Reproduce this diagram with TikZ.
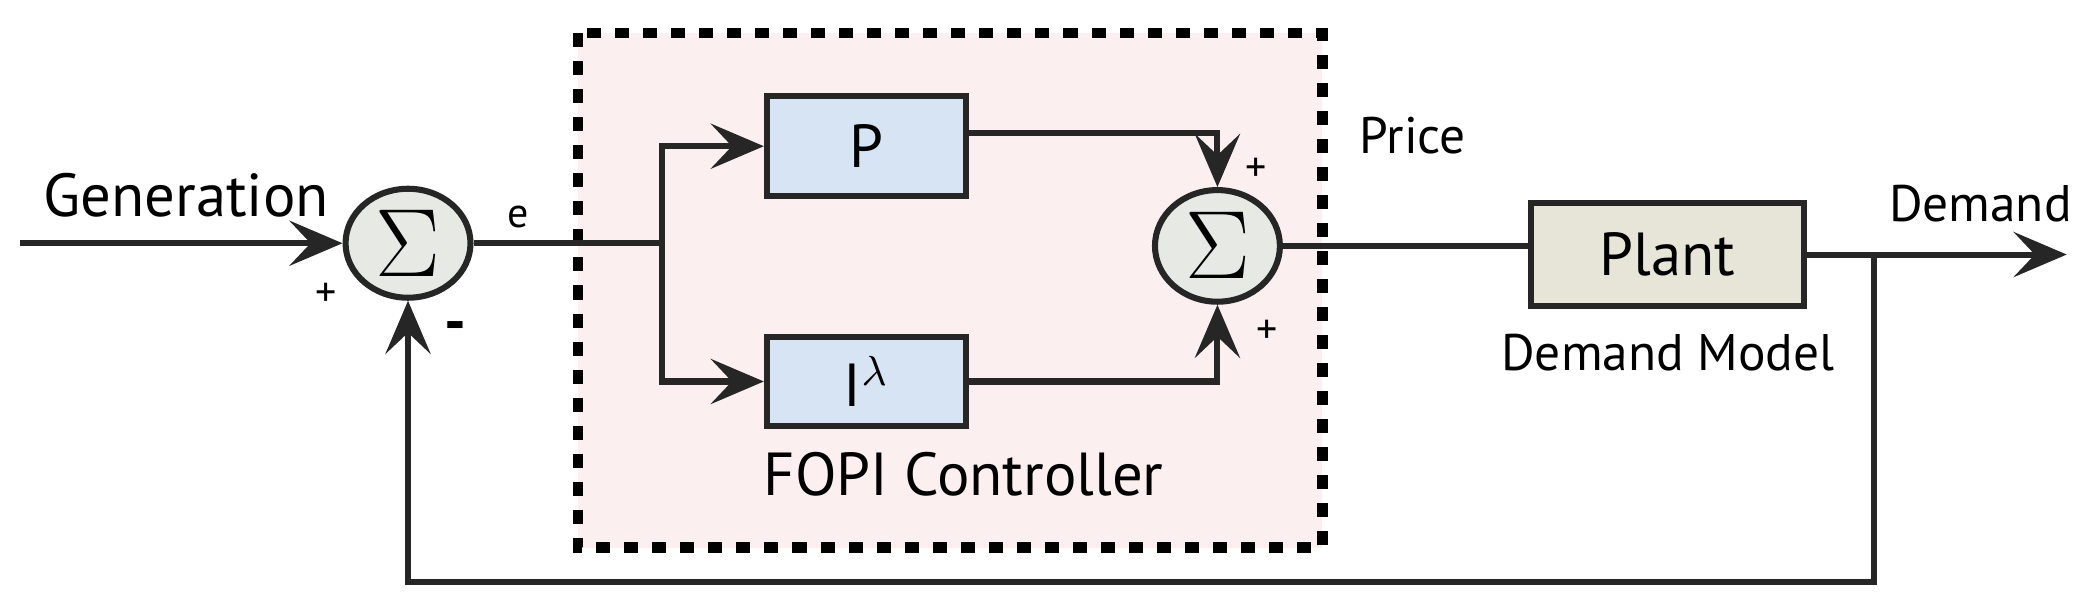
\documentclass[tikz,border=0pt]{standalone}
\usepackage{fontspec}
\setmainfont{PT Sans}
\usetikzlibrary{arrows.meta,shapes.geometric}
\definecolor{boxb}{HTML}{D6E4F4}
\definecolor{boxp}{HTML}{E6E5D8}
\definecolor{sumg}{HTML}{E6E9E4}
\definecolor{bgp}{HTML}{FCEFEF}
\begin{document}
\begin{tikzpicture}[x=0.1mm,y=-0.1mm,
  ln/.style={line width=1.3pt,draw=black!85},
  arr/.style={ln,-{Stealth[length=4mm,width=3.4mm,inset=1.6mm]}},
  sum/.style={ellipse,draw=black!85,line width=1.3pt,fill=sumg,minimum width=9.4mm,minimum height=8.2mm,inner sep=0pt,font=\fontsize{20}{20}\selectfont},
  blk/.style={draw=black!85,line width=1.3pt,inner sep=0pt},
  lbl/.style={font=\fontsize{9}{11}\selectfont},
  big/.style={font=\fontsize{13}{15}\selectfont}]
\useasboundingbox (0,0) rectangle (1568,463);
\fill[bgp] (435,25) rectangle (995,412);
\draw[line width=2.2pt,dash pattern=on 3pt off 3pt] (435,25) rectangle (995,412);
\node[sum] (s1) at (307,183) {$\Sigma$};
\node[sum,minimum height=8.4mm] (s2) at (916,185) {$\Sigma$};
\node[blk,fill=boxb,minimum width=15mm,minimum height=7.5mm,big] (P) at (652,110) {P};
\node[blk,fill=boxb,minimum width=15mm,minimum height=6.7mm,big] (I) at (652,287) {I$^{\lambda}$};
\node[blk,fill=boxp,minimum width=20.5mm,minimum height=7.7mm,big] (pl) at (1254.5,191.5) {Plant};
\coordinate (in) at (15,183);
\coordinate (br) at (498,183);
\coordinate (pc) at (916,100);
\coordinate (ic) at (916,287);
\coordinate (out) at (1555,191.5);
\coordinate (tap) at (1410,191.5);
\coordinate (fb1) at (1410,438);
\coordinate (fb2) at (307,438);
\draw[arr] (in) -- (s1.west);
\draw[ln] (s1.east) -- (br);
\draw[arr] (br) |- (P.west);
\draw[arr] (br) |- (I.west);
\draw[arr] (P.east |- pc) -- (pc) -- (s2.north);
\draw[arr] (I.east) -- (ic) -- (s2.south);
\draw[ln] (s2.east) -- (pl.west |- s2.east);
\draw[arr] (pl.east) -- (out);
\draw[arr] (tap) -- (fb1) -- (fb2) -- (s1.south);
\node[font=\fontsize{13}{15}\selectfont] (gen) at (140,147) {Generation};
\node[lbl] (e) at (390,163) {e};
\node[lbl] (p1) at (245,222) {+};
\node[font=\bfseries\fontsize{13}{15}\selectfont] (m1) at (343,250) {-};
\node[lbl] (p2) at (945,128) {+};
\node[lbl] (p3) at (953,250) {+};
\node[font=\fontsize{11}{13}\selectfont] (pr) at (1063,102) {Price};
\node[font=\fontsize{11}{13}\selectfont] (dm) at (1490,153) {Demand};
\node[font=\fontsize{11}{13}\selectfont] (dmm) at (1255,265) {Demand Model};
\node[font=\fontsize{13}{15}\selectfont] (fopi) at (725,357) {FOPI Controller};
\end{tikzpicture}
\end{document}
